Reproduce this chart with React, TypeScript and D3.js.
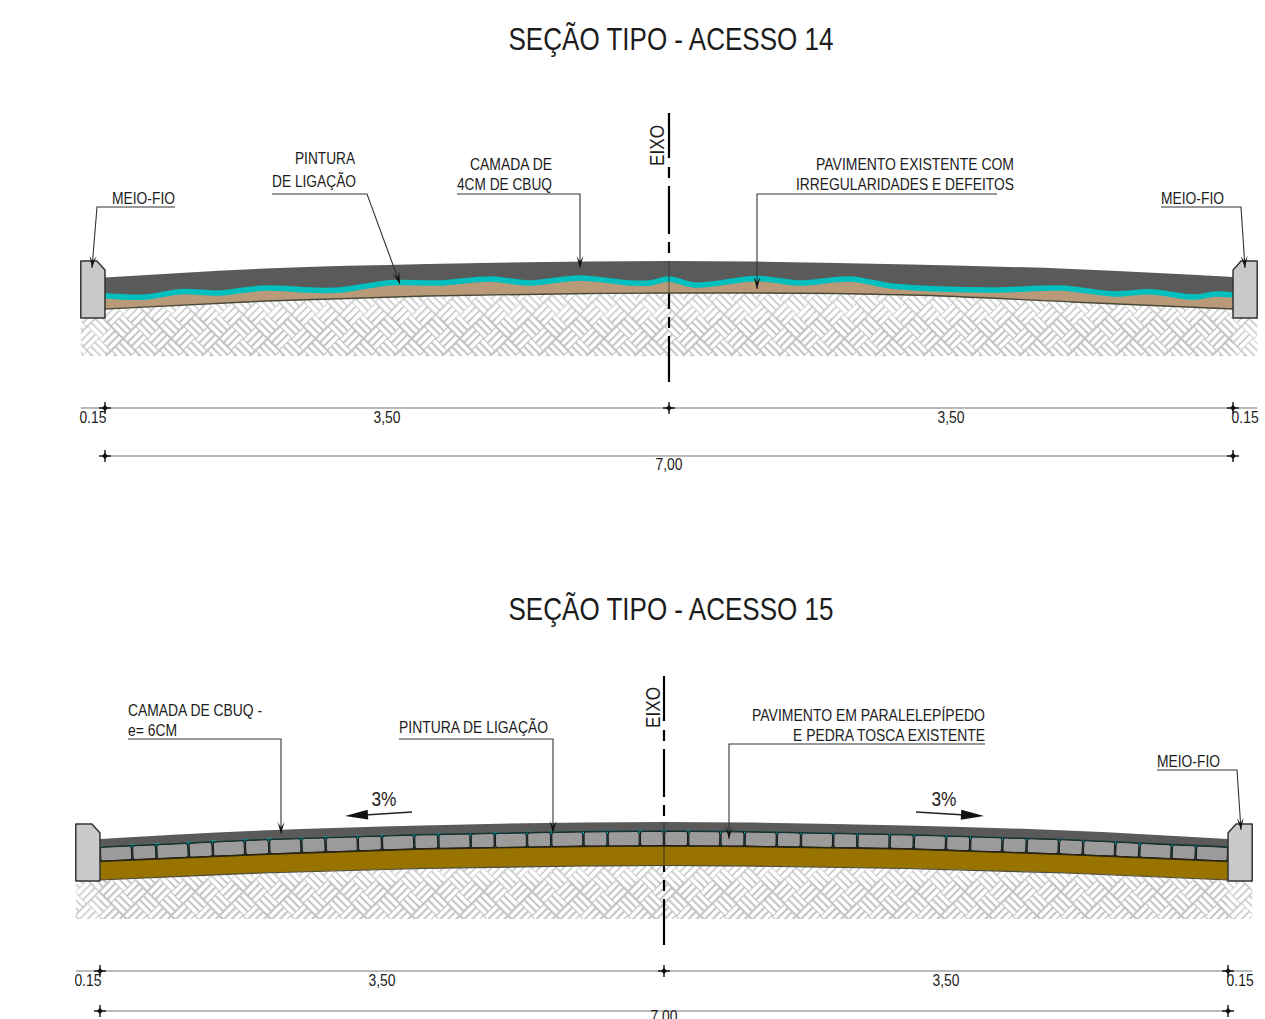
import React from "react";
import * as d3 from "d3";

// ---- data (metres from the axis / elevation above the bottom of the ground hatch) ----
const profileStations = [-3.5, -2.5, -1.5, -0.5, 0, 0.5, 1.5, 2.5, 3.5];
const s14Top = [78.5, 87.5, 92, 94.5, 95, 94.5, 91.5, 87, 79];
const s14Base = [47, 55, 60, 62.5, 63, 63, 61, 54, 47];
const s14WaveStations = [-3.5, -3.25, -3.03, -2.79, -2.51, -2.23, -2.04, -1.73, -1.42, -1.11, -0.86, -0.56, -0.24, -0.12, 0, 0.16, 0.55, 0.81, 1.12, 1.37, 1.68, 2.05, 2.43, 2.77, 2.98, 3.26, 3.39, 3.5];
const s14Wave = [60.3, 59, 64.3, 63, 68, 66, 66, 73.3, 73, 77, 73, 78, 73, 73, 77, 71, 77.5, 73, 77, 70.3, 67, 66, 68, 62, 64.3, 59, 62, 61];

const s15Top = [80, 88.5, 93.5, 96.5, 97, 96.5, 93.5, 88.5, 80];
const s15StoneTop = [72, 79.5, 84.5, 87.5, 88, 87.5, 84.5, 79.5, 72];
const s15StoneBottom = [57.5, 64.5, 70, 72.5, 73, 72.5, 70, 64.5, 57.5];
const s15BrownBottom = [39, 46, 50.5, 53, 53.5, 53, 50.5, 46, 39];
const stoneWidths = [0.2, 0.15, 0.2, 0.15, 0.2, 0.15, 0.2, 0.15, 0.2, 0.15, 0.2, 0.15, 0.2, 0.15, 0.2, 0.15, 0.2, 0.15, 0.2, 0.15];

const dimStations = [-3.65, -3.5, 0, 3.5, 3.65];
const dimLabels = ["0.15", "3,50", "3,50", "0.15"];
const totalLabel = "7,00";
const curbOutline: [number, number][] = [[0, 38], [0, 95], [0.1, 95], [0.15, 86], [0.15, 38]];

const titles = ["SEÇÃO TIPO - ACESSO 14", "SEÇÃO TIPO - ACESSO 15"];

const COL = { dark: "#5a5a5a", tan: "#b89a78", cyan: "#00bfbf", brown: "#997300", stone: "#9b9b9b", curb: "#c9c9c9", ink: "#222", hatch: "#c0c0c0" };
const FONT = "'Liberation Sans Narrow','Liberation Sans',Arial,sans-serif";
const HALF_PX = 588.2;

function Txt({ x, y, w, size = 17, anchor = "start", children, rotate }: any) {
  return (
    <text x={x} y={y} fontFamily={FONT} fontSize={size} fill="#1c1c1c" textAnchor={anchor}
      textLength={w} lengthAdjust="spacingAndGlyphs"
      transform={rotate ? `rotate(${rotate} ${x} ${y})` : undefined}>{children}</text>
  );
}

function Head({ x1, y1, x2, y2, len = 12, wid = 3.4, notch = 0.55 }: any) {
  const a = Math.atan2(y2 - y1, x2 - x1);
  const p = (l: number, s: number) => [x2 - l * Math.cos(a) - s * Math.sin(a), y2 - l * Math.sin(a) + s * Math.cos(a)].join(",");
  return <polygon points={[p(0, 0), p(len, wid), p(len * notch, 0), p(len, -wid)].join(" ")} fill="#111" />;
}

function Leader({ pts }: { pts: [number, number][] }) {
  const n = pts.length;
  return (
    <g>
      <path d={d3.line()(pts) as string} fill="none" stroke="#333" strokeWidth={1.1} />
      <Head x1={pts[n - 2][0]} y1={pts[n - 2][1]} x2={pts[n - 1][0]} y2={pts[n - 1][1]} />
    </g>
  );
}

function Tick({ x, y }: { x: number; y: number }) {
  return (
    <g>
      <path d={`M${x - 6},${y}H${x + 6}`} stroke="#111" strokeWidth={1.4} />
      <path d={`M${x},${y - 6}V${y + 6}`} stroke="#111" strokeWidth={1.4} />
      <rect x={x - 2.2} y={y - 2.2} width={4.4} height={4.4} fill="#111" transform={`rotate(45 ${x} ${y})`} />
    </g>
  );
}

function Dims({ x, y1, y2, ty1, ty2 }: any) {
  return (
    <g>
      <line x1={x(dimStations[0])} x2={x(dimStations[4])} y1={y1} y2={y1} stroke="#777" strokeWidth={1.2} />
      {dimStations.slice(1, 4).map((s) => <Tick key={s} x={x(s)} y={y1} />)}
      {dimLabels.map((l, i) => (
        <Txt key={i} x={(x(dimStations[i]) + x(dimStations[i + 1])) / 2} y={ty1} size={16} anchor="middle" w={27}>{l}</Txt>
      ))}
      <line x1={x(dimStations[1])} x2={x(dimStations[3])} y1={y2} y2={y2} stroke="#777" strokeWidth={1.2} />
      <Tick x={x(dimStations[1])} y={y2} />
      <Tick x={x(dimStations[3])} y={y2} />
      <Txt x={x(0)} y={ty2} size={16} anchor="middle" w={27}>{totalLabel}</Txt>
    </g>
  );
}

function Curb({ x, y, side }: any) {
  const edge = side < 0 ? -3.65 : 3.65;
  const pts = curbOutline.map(([dx, e]) => [x(edge - side * dx), y(e)] as [number, number]);
  return <polygon points={pts.join(" ")} fill={COL.curb} stroke="#333" strokeWidth={1.5} strokeLinejoin="round" />;
}

function Axis({ x, top, bottom, dash }: any) {
  return <line x1={x} x2={x} y1={top} y2={bottom} stroke="#000" strokeWidth={2.2} strokeDasharray={dash} />;
}

function Ground({ x, y, groundTop }: any) {
  // hatched ground, from the road base down to the bottom of the section
  const area = d3.area<number>()
    .x((_, i) => x(profileStations[i]))
    .y0(y(0))
    .y1((_, i) => y(groundTop[i]))
    .curve(d3.curveMonotoneX);
  const left = x(-3.65), right = x(3.65);
  return (
    <g>
      <rect x={left} y={y(38)} width={right - left} height={y(0) - y(38)} fill="url(#weave)" />
      <path d={area(profileStations) as string} fill="url(#weave)" />
    </g>
  );
}

function Section14() {
  const cx = 669;
  const x = d3.scaleLinear().domain([-3.65, 3.65]).range([cx - HALF_PX, cx + HALF_PX]);
  const y = d3.scaleLinear().domain([0, 100]).range([356, 256]);
  const base = d3.scaleLinear().domain(profileStations).range(s14Base);
  const dark = d3.area<number>().x((_, i) => x(profileStations[i])).y0((_, i) => y(s14Base[i])).y1((_, i) => y(s14Top[i])).curve(d3.curveMonotoneX);
  const tan = d3.area<number>().x((d) => x(d)).y0((d) => y(base(d))).y1((_, i) => y(s14Wave[i])).curve(d3.curveCatmullRom);
  const wave = d3.line<number>().x((d) => x(d)).y((_, i) => y(s14Wave[i])).curve(d3.curveCatmullRom);
  const baseLine = d3.line<number>().x((d) => x(d)).y((_, i) => y(s14Base[i])).curve(d3.curveMonotoneX);
  return (
    <g>
      <Txt x={671} y={50} size={31} anchor="middle" w={325}>{titles[0]}</Txt>
      <Ground x={x} y={y} groundTop={s14Base} />
      <Axis x={cx} top={113} bottom={382} dash="45 9 11 8 48 8 11 8 48 8 11 8 48" />
      <path d={dark(profileStations) as string} fill={COL.dark} />
      <path d={tan(s14WaveStations) as string} fill={COL.tan} />
      <path d={wave(s14WaveStations) as string} fill="none" stroke={COL.cyan} strokeWidth={5.5} />
      <path d={baseLine(profileStations) as string} fill="none" stroke="#4a4a3a" strokeWidth={1.3} />
      <line x1={cx} x2={cx} y1={y(95)} y2={y(63)} stroke="#333" strokeWidth={0.8} />
      <Curb x={x} y={y} side={-1} />
      <Curb x={x} y={y} side={1} />

      <Txt x={112} y={204} w={63}>MEIO-FIO</Txt>
      <Leader pts={[[175, 207], [97, 207], [92, 268]]} />
      <Txt x={295} y={164} w={60}>PINTURA</Txt>
      <Txt x={272} y={187} w={84}>DE LIGAÇÃO</Txt>
      <Leader pts={[[272, 194], [367, 194], [400, 284]]} />
      <Txt x={470} y={170} w={82}>CAMADA DE</Txt>
      <Txt x={457} y={190} w={95}>4CM DE CBUQ</Txt>
      <Leader pts={[[457, 194], [580, 194], [580, 268]]} />
      <Txt x={816} y={170} w={198}>PAVIMENTO EXISTENTE COM</Txt>
      <Txt x={796} y={190} w={218}>IRREGULARIDADES E DEFEITOS</Txt>
      <Leader pts={[[997, 194], [757, 194], [757, 289]]} />
      <Txt x={1161} y={204} w={63}>MEIO-FIO</Txt>
      <Leader pts={[[1161, 207], [1241, 207], [1245, 268]]} />
      <Txt x={664} y={166} size={20} w={41} rotate={-90}>EIXO</Txt>
      <Dims x={x} y1={408} y2={456} ty1={423} ty2={470} />
    </g>
  );
}

function Section15() {
  const cx = 664;
  const x = d3.scaleLinear().domain([-3.65, 3.65]).range([cx - HALF_PX, cx + HALF_PX]);
  const y = d3.scaleLinear().domain([0, 100]).range([919, 819]);
  const sTop = d3.scaleLinear().domain(profileStations).range(s15StoneTop);
  const sBot = d3.scaleLinear().domain(profileStations).range(s15StoneBottom);
  const band = (a: number[], b: number[]) => d3.area<number>().x((d) => x(d)).y0((_, i) => y(b[i])).y1((_, i) => y(a[i])).curve(d3.curveMonotoneX)(profileStations) as string;
  const curve = (a: number[]) => d3.line<number>().x((d) => x(d)).y((_, i) => y(a[i])).curve(d3.curveMonotoneX)(profileStations) as string;

  // lay the setts from the kerb to the axis, then mirror them on the right
  const edges = d3.cumsum(stoneWidths);
  const stones: { c: number; w: number }[] = [];
  stoneWidths.forEach((w, i) => {
    const c = -3.5 + edges[i] - w / 2;
    stones.push({ c, w }, { c: -c, w });
  });

  return (
    <g>
      <Txt x={671} y={620} size={31} anchor="middle" w={325}>{titles[1]}</Txt>
      <Ground x={x} y={y} groundTop={s15BrownBottom} />
      <Axis x={cx} top={676} bottom={945} dash="45 9 11 8 48 8 11 8 48 8 11 8 48" />
      <path d={band(s15Top, s15StoneTop)} fill={COL.dark} />
      <path d={band(s15StoneTop, s15StoneBottom)} fill="#1e4a4a" />
      <path d={band(s15StoneBottom, s15BrownBottom)} fill={COL.brown} />
      {stones.map(({ c, w }, i) => {
        const px = x(c), t = y(sTop(c)), b = y(sBot(c));
        const ang = (Math.atan2(y(sTop(c + 0.05)) - y(sTop(c - 0.05)), x(c + 0.05) - x(c - 0.05)) * 180) / Math.PI;
        const wpx = x(w) - x(0) - 1.4, h = b - t - 0.8;
        return (
          <g key={i}>
            <path d={`M${px - wpx / 2 - 3},${t - 0.5}L${px - wpx / 2},${t + 3.5}L${px - wpx / 2 + 3},${t - 0.5}Z`} fill={COL.cyan} />
            <rect x={px - wpx / 2} y={(t + b) / 2 - h / 2} width={wpx} height={h} rx={2.2} fill={COL.stone} stroke="#1a1a1a" strokeWidth={1}
              transform={`rotate(${ang} ${px} ${(t + b) / 2})`} />
          </g>
        );
      })}
      <path d={curve(s15StoneTop)} fill="none" stroke="#0c3a3a" strokeWidth={1.2} />
      <path d={curve(s15StoneBottom)} fill="none" stroke="#2a2410" strokeWidth={1.4} />
      <path d={curve(s15BrownBottom)} fill="none" stroke="#4a4a3a" strokeWidth={1.2} />
      <line x1={cx} x2={cx} y1={y(97)} y2={y(53.5)} stroke="#222" strokeWidth={0.8} />
      <Curb x={x} y={y} side={-1} />
      <Curb x={x} y={y} side={1} />

      <Txt x={128} y={716} w={134}>CAMADA DE CBUQ -</Txt>
      <Txt x={128} y={736} w={49}>e= 6CM</Txt>
      <Leader pts={[[128, 739], [281, 739], [281, 834]]} />
      <Txt x={399} y={733} w={149}>PINTURA DE LIGAÇÃO</Txt>
      <Leader pts={[[399, 739], [553, 739], [553, 833]]} />
      <Txt x={752} y={721} w={233}>PAVIMENTO EM PARALELEPÍPEDO</Txt>
      <Txt x={793} y={741} w={192}>E PEDRA TOSCA EXISTENTE</Txt>
      <Leader pts={[[985, 744], [729, 744], [729, 839]]} />
      <Txt x={1157} y={767} w={63}>MEIO-FIO</Txt>
      <Leader pts={[[1157, 770], [1237, 770], [1241, 830]]} />
      <Txt x={384} y={806} size={20} anchor="middle" w={25}>3%</Txt>
      <Txt x={944} y={806} size={20} anchor="middle" w={25}>3%</Txt>
      <line x1={412} y1={812} x2={365} y2={815} stroke="#222" strokeWidth={1.4} />
      <Head x1={412} y1={812} x2={345} y2={816} len={23} wid={5} notch={1} />
      <line x1={916} y1={812} x2={965} y2={815} stroke="#222" strokeWidth={1.4} />
      <Head x1={916} y1={812} x2={984} y2={816} len={23} wid={5} notch={1} />
      <Txt x={660} y={728} size={20} w={41} rotate={-90}>EIXO</Txt>
      <Dims x={x} y1={971} y2={1011} ty1={986} ty2={1022} />
    </g>
  );
}

export default function App() {
  const a = 17;
  const lines = [0, a / 3, (2 * a) / 3, a];
  return (
    <svg width={1265} height={1019} viewBox="0 0 1265 1019" style={{ position: "absolute", left: 0, top: 0, display: "block", background: "#fff" }}>
      <defs>
        <pattern id="weave" width={2 * a} height={2 * a} patternUnits="userSpaceOnUse" patternTransform="translate(3 2) rotate(45)">
          <g stroke={COL.hatch} strokeWidth={1.4}>
            {lines.map((l) => (
              <g key={l}>
                <line x1={0} x2={a} y1={l} y2={l} />
                <line x1={a} x2={2 * a} y1={a + l} y2={a + l} />
                <line y1={a} y2={2 * a} x1={l} x2={l} />
                <line y1={0} y2={a} x1={a + l} x2={a + l} />
              </g>
            ))}
          </g>
        </pattern>
      </defs>
      <Section14 />
      <Section15 />
    </svg>
  );
}
